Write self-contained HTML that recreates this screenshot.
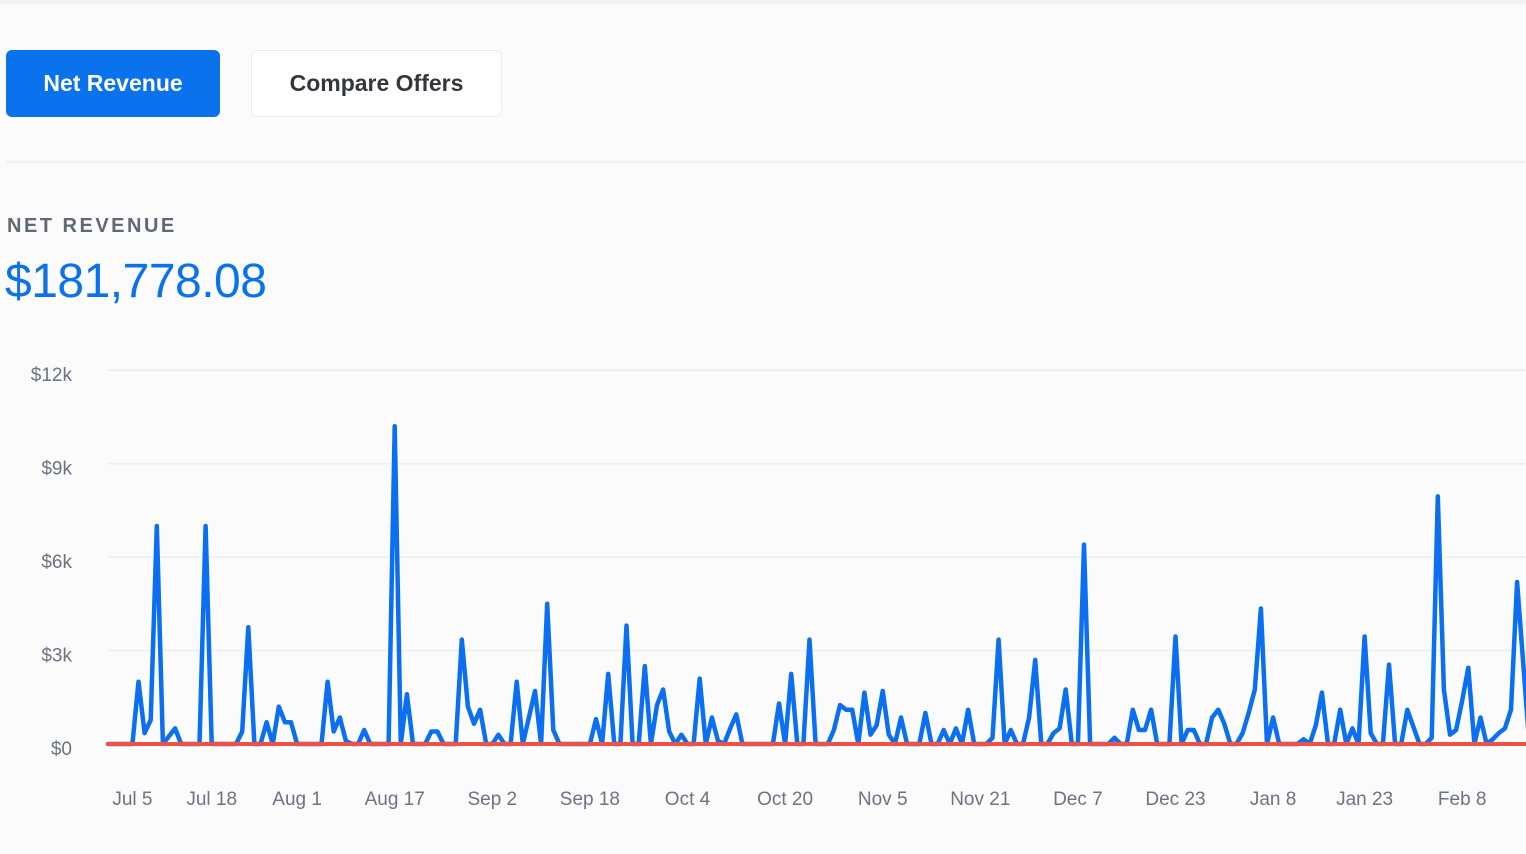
<!DOCTYPE html>
<html><head><meta charset="utf-8">
<style>
html,body{margin:0;padding:0;background:#fbfbfc;}
body{width:1526px;height:854px;overflow:hidden;position:relative;font-family:"Liberation Sans",sans-serif;}
.topbar{position:absolute;left:0;top:0;width:1526px;height:4px;background:#f1f2f4;}
.btn{position:absolute;top:50px;height:67px;box-sizing:border-box;border-radius:6px;font-size:23px;font-weight:bold;display:flex;align-items:center;justify-content:center;}
#b1{left:6px;width:214px;background:#0a72ec;color:#fff;}
#b2{left:251px;width:251px;background:#fff;border:1.5px solid #ececef;color:#33373d;}
.divider{position:absolute;left:6px;top:161px;width:1520px;height:2px;background:#eef0f2;}
.lbl{position:absolute;left:7px;top:215px;font-size:20px;font-weight:bold;letter-spacing:2.5px;color:#5f6873;}
.total{position:absolute;left:5px;top:254px;font-size:48px;color:#0a72ec;letter-spacing:-0.5px;}
svg{position:absolute;left:0;top:0;}
</style></head>
<body>
<div class="topbar"></div>
<div class="btn" id="b1">Net Revenue</div>
<div class="btn" id="b2">Compare Offers</div>
<div class="divider"></div>
<div class="lbl">NET REVENUE</div>
<div class="total">$181,778.08</div>
<svg id="chart" width="1526" height="854"></svg>
<script>
const yTicks=[0,3,6,9,12];
const yTickLabels=["$0","$3k","$6k","$9k","$12k"];
const xTickDays=[4,17,31,47,63,79,95,111,127,143,159,175,191,206,222,238];
const xTickLabels=["Jul 5","Jul 18","Aug 1","Aug 17","Sep 2","Sep 18","Oct 4","Oct 20","Nov 5","Nov 21","Dec 7","Dec 23","Jan 8","Jan 23","Feb 8","Feb 24"];
const days=[0,4,5,6,7,8,9,11,12,15,16,17,21,22,23,24,25,26,27,28,29,30,31,35,36,37,38,39,40,41,42,43,46,47,48,49,50,52,53,54,55,57,58,59,60,61,62,63,64,65,66,67,68,69,70,71,72,73,74,79,80,81,82,83,84,85,86,87,88,89,90,91,92,93,94,95,96,97,98,99,100,101,102,103,104,109,110,111,112,113,114,115,116,118,119,120,121,122,123,124,125,126,127,128,129,130,131,132,133,134,135,136,137,138,139,140,141,142,144,145,146,147,148,149,150,151,152,153,154,155,156,157,158,159,160,161,164,165,166,167,168,169,170,171,172,174,175,176,177,178,179,180,181,182,183,184,185,186,187,188,189,190,191,192,195,196,197,198,199,200,201,202,203,204,205,206,207,208,209,210,211,212,213,214,215,216,217,218,219,220,221,222,223,224,225,226,227,228,229,230,231,233];
const revenue=[0,0,2.0,0.35,0.77,7.0,0,0.5,0,0,7.0,0,0,0.4,3.75,0,0,0.7,0,1.2,0.7,0.7,0,0,2.0,0.4,0.85,0.1,0,0,0.45,0,0,10.2,0,1.6,0,0,0.4,0.4,0,0,3.35,1.2,0.65,1.1,0,0,0.3,0,0,2.0,0,0.85,1.7,0,4.5,0.45,0,0,0.8,0,2.25,0,0,3.8,0,0,2.5,0,1.25,1.75,0.4,0,0.3,0,0,2.1,0,0.85,0.1,0,0.5,0.95,0,0,1.3,0,2.25,0,0,3.35,0,0,0.45,1.25,1.1,1.1,0,1.65,0.3,0.6,1.7,0.3,0,0.85,0,0,0,1.0,0,0,0.45,0,0.5,0,1.1,0,0,0.2,3.35,0,0.45,0,0,0.85,2.7,0,0,0.35,0.5,1.75,0,0,6.4,0,0,0.2,0,0,1.1,0.45,0.45,1.1,0,0,3.45,0,0.45,0.45,0,0,0.85,1.1,0.65,0,0,0.35,1.0,1.75,4.35,0,0.85,0,0,0.15,0,0.6,1.65,0,0,1.1,0,0.5,0,3.45,0.35,0,0,2.55,0,0,1.1,0.55,0,0,0.2,7.95,1.75,0.3,0.45,1.4,2.45,0,0.85,0,0.15,0.35,0.5,1.1,5.2,0];
const NS="http://www.w3.org/2000/svg";
const svg=document.getElementById('chart');
const xOf=d=>108+d*6.1;
const yOf=v=>744-v*31.15;
function mk(t,a){const e=document.createElementNS(NS,t);for(const k in a)e.setAttribute(k,a[k]);svg.appendChild(e);return e;}
yTicks.forEach((v,i)=>{
  if(v>0){const g=mk('line',{x1:108,x2:1526,y1:yOf(v),y2:yOf(v),stroke:'#eceef0','stroke-width':1.5});
  
  }
  const t=mk('text',{x:72,y:yOf(v)+11,'text-anchor':'end','font-size':19,fill:'#6b7480','font-family':'Liberation Sans, sans-serif'});
  t.textContent=yTickLabels[i];
  
  
});
xTickDays.forEach((d,i)=>{
  const t=mk('text',{x:xOf(d),y:805,'text-anchor':'middle','font-size':19,fill:'#6b7480','font-family':'Liberation Sans, sans-serif'});
  t.textContent=xTickLabels[i];
  
  
});
let dstr=days.map((d,i)=>(i?'L':'M')+xOf(d).toFixed(1)+','+yOf(revenue[i]).toFixed(1)).join(' ');
const p=mk('path',{d:dstr,fill:'none',stroke:'#0a6ff0','stroke-width':4.5,'stroke-linejoin':'round'});


const base=mk('line',{x1:106,x2:1526,y1:744,y2:744,stroke:'#ef5147','stroke-width':4});


</script>
</body></html>
